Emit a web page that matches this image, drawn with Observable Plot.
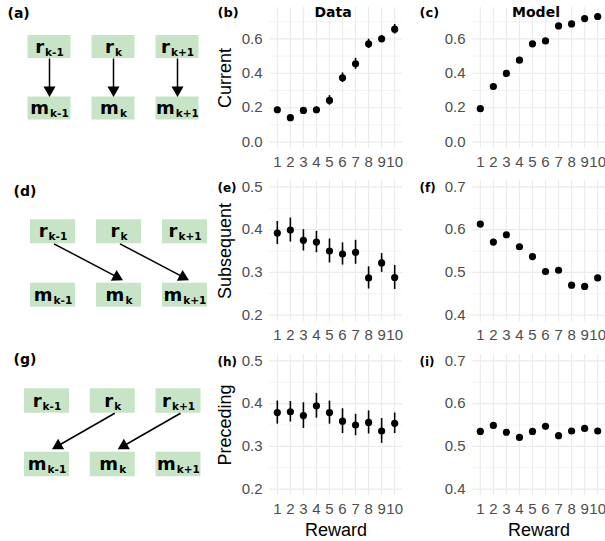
<!DOCTYPE html>
<html><head><meta charset="utf-8">
<script src="https://cdn.jsdelivr.net/npm/d3@7"></script>
<script src="https://cdn.jsdelivr.net/npm/@observablehq/plot@0.6"></script>
<style>
html,body{margin:0;padding:0;background:#fff;}
#fig{position:relative;width:605px;height:541px;overflow:hidden;background:#fff;}
#fig svg{position:absolute;}
</style></head><body><div id="fig"></div>
<script>
// ---------- data ----------
const rewards = [1, 2, 3, 4, 5, 6, 7, 8, 9, 10];
const dataCurrent      = [0.188, 0.142, 0.184, 0.188, 0.242, 0.374, 0.455, 0.571, 0.600, 0.656];
const dataCurrentSE    = [0.015, 0.014, 0.015, 0.016, 0.028, 0.028, 0.032, 0.027, 0.020, 0.028];
const modelCurrent     = [0.194, 0.323, 0.399, 0.476, 0.571, 0.588, 0.675, 0.687, 0.718, 0.730];
const dataSubsequent   = [0.392, 0.399, 0.375, 0.371, 0.350, 0.343, 0.347, 0.287, 0.322, 0.288];
const dataSubsequentSE = [0.027, 0.028, 0.025, 0.025, 0.028, 0.026, 0.028, 0.026, 0.022, 0.028];
const modelSubsequent  = [0.613, 0.571, 0.588, 0.560, 0.537, 0.502, 0.505, 0.470, 0.467, 0.487];
const dataPreceding    = [0.379, 0.381, 0.372, 0.395, 0.379, 0.359, 0.350, 0.356, 0.336, 0.354];
const dataPrecedingSE  = [0.027, 0.024, 0.030, 0.029, 0.027, 0.029, 0.025, 0.027, 0.029, 0.024];
const modelPreceding   = [0.535, 0.549, 0.533, 0.521, 0.535, 0.547, 0.525, 0.536, 0.542, 0.536];

const rowLabels = ["Current", "Subsequent", "Preceding"];
const colTitles = ["Data", "Model"];
const panelTags = [["(b)", "(c)"], ["(e)", "(f)"], ["(h)", "(i)"]];
const xTitle = "Reward";
const row1Majors = [0, 0.2, 0.4, 0.6], row1Minors = [0.1, 0.3, 0.5, 0.7];
const lowMajors = [0.2, 0.3, 0.4, 0.5], lowMinors = [0.25, 0.35, 0.45];
const highMajors = [0.4, 0.5, 0.6, 0.7], highMinors = [0.45, 0.55, 0.65];

const diagramTags = ["(a)", "(d)", "(g)"];
const nodeBase = ["r", "m"];
const nodeSub = ["k-1", "k", "k+1"];
const diagramEdges = [[[0, 0], [1, 1], [2, 2]], [[0, 1], [1, 2]], [[1, 0], [2, 1]]];

// ---------- layout ----------
const fig = document.getElementById("fig");
const SANS = '"Liberation Sans", Arial, sans-serif';
const BOLD = '"DejaVu Sans", sans-serif';
const GRID = "#ebebeb";
const GREEN = "#c8e4c6";
const colLeft = [269, 472];
const rowTop = [7, 180, 354];
const PW = 133, PH = 141;

function panel(row, col, values, se, domain, majors, minors) {
  const ml = 69, mt = 7, mr = 0;
  const mb = row === 2 ? 541 - (rowTop[row] + PH) : 26;
  const pts = rewards.map((r, i) => ({reward: r, v: values[i], se: se ? se[i] : 0}));
  const marks = [
    Plot.gridY(minors, {stroke: GRID, strokeOpacity: 1, strokeWidth: 0.55}),
    Plot.gridY(majors, {stroke: GRID, strokeOpacity: 1, strokeWidth: 1.1}),
    Plot.gridX(rewards, {stroke: GRID, strokeOpacity: 1, strokeWidth: 1.1}),
    Plot.axisY(majors, {anchor: "left", tickSize: 0, tickPadding: 7, tickFormat: d3.format(".1f"), color: "#4d4d4d", fontSize: 15, label: null}),
    Plot.axisX(rewards, {anchor: "bottom", tickSize: 0, tickPadding: 8, color: "#4d4d4d", fontSize: 15, label: null})
  ];
  if (se) marks.push(Plot.ruleX(pts, {x: "reward", y1: d => d.v - d.se, y2: d => d.v + d.se, stroke: "black", strokeWidth: 1.6}));
  marks.push(Plot.dot(pts, {x: "reward", y: "v", r: 3.6, fill: "black", stroke: "none"}));
  if (col === 0) marks.push(Plot.text([rowLabels[row]], {text: d => d, frameAnchor: "left", rotate: -90, dx: -39, lineAnchor: "bottom", textAnchor: "middle", fontSize: 18, fill: "black", fontFamily: SANS}));
  if (row === 0) marks.push(Plot.text([colTitles[col]], {text: d => d, frameAnchor: "top", dx: -3, dy: 9, lineAnchor: "bottom", textAnchor: "middle", fontSize: 14, fontWeight: "bold", fontFamily: BOLD, fill: "black"}));
  if (row === 2) marks.push(Plot.text([xTitle], {text: d => d, frameAnchor: "bottom", dy: 40, lineAnchor: "bottom", textAnchor: "middle", fontSize: 18, fontFamily: SANS, fill: "black"}));
  const tagX = col === 0 ? 217 : 419;
  const tagBase = [16, 191, 365][row];
  marks.push(Plot.text([panelTags[row][col]], {text: d => d, frameAnchor: "top-left", dx: tagX - colLeft[col], dy: tagBase - rowTop[row], lineAnchor: "bottom", textAnchor: "start", fontSize: row === 0 ? 13 : 12, fontWeight: "bold", fontFamily: BOLD, fill: "black"}));
  const left = colLeft[col] - ml, top = rowTop[row] - mt;
  const svg = Plot.plot({
    width: ml + PW + mr, height: mt + PH + mb,
    marginLeft: ml, marginRight: mr, marginTop: mt, marginBottom: mb,
    x: {type: "linear", domain: [0.4, 10.6], axis: null},
    y: {type: "linear", domain, axis: null},
    style: {background: "transparent", overflow: "visible", fontFamily: SANS, fontSize: "15px", position: "absolute", left: left + "px", top: top + "px"},
    marks
  });
  fig.appendChild(svg);
}

const r1 = [-0.03725, 0.78225];
panel(0, 0, dataCurrent, dataCurrentSE, r1, row1Majors, row1Minors);
panel(0, 1, modelCurrent, null, r1, row1Majors, row1Minors);
panel(1, 0, dataSubsequent, dataSubsequentSE, [0.185, 0.515], lowMajors, lowMinors);
panel(1, 1, modelSubsequent, null, [0.385, 0.715], highMajors, highMinors);
panel(2, 0, dataPreceding, dataPrecedingSE, [0.185, 0.515], lowMajors, lowMinors);
panel(2, 1, modelPreceding, null, [0.385, 0.715], highMajors, highMinors);

// ---------- diagrams ----------
const ctx = document.createElement("canvas").getContext("2d");
function textW(s, size) { ctx.font = `bold ${size}px "DejaVu Sans"`; return ctx.measureText(s).width; }
const MAIN = 18, SUB = 10.5;

const geoms = [
  {top: 0,   w: 205, h: 135, ml: 49,   mr: 28,   mt: 46.5, mb: 27,   bw: 43, bh: 23,   tagX: 7,  tagBase: 17, startOff: 0, tipOff: 0, gap: 0},
  {top: 170, w: 215, h: 150, ml: 52.5, mr: 30.5, mt: 61.3, mb: 25.3, bw: 45, bh: 24,   tagX: 13, tagBase: 25, startOff: 1, tipOff: 4, gap: 3},
  {top: 330, w: 205, h: 160, ml: 46.5, mr: 27,   mt: 70.5, mb: 26,   bw: 45, bh: 24.5, tagX: 13, tagBase: 33, startOff: 2, tipOff: 5, gap: 3}
];

function diagram(i) {
  const g = geoms[i];
  const pxX = (g.w - g.ml - g.mr) / 2, pxY = g.h - g.mt - g.mb;
  const nodes = [];
  for (let r = 0; r < 2; r++) for (let c = 0; c < 3; c++) {
    const wm = textW(nodeBase[r], MAIN), ws = textW(nodeSub[c], SUB);
    const off = (wm - ws) / 2 - 0.5;
    nodes.push({col: c, row: r, base: nodeBase[r], sub: nodeSub[c], xm: c + off / pxX, xs: c + (off + 1) / pxX});
  }
  const arrows = diagramEdges[i].map(([a, b]) => {
    const sx = a * pxX + g.startOff, sy = g.bh / 2;
    const tx = b * pxX + g.tipOff, ty = pxY - g.bh / 2 - g.gap;
    const L = Math.hypot(tx - sx, ty - sy), ux = (tx - sx) / L, uy = (ty - sy) / L;
    const cx = tx - 7 * ux, cy = ty - 7 * uy;
    return {x1: sx / pxX, y1: sy / pxY, x2: cx / pxX, y2: cy / pxY, rot: Math.atan2(ux, -uy) * 180 / Math.PI};
  });
  const svg = Plot.plot({
    width: g.w, height: g.h,
    marginLeft: g.ml, marginRight: g.mr, marginTop: g.mt, marginBottom: g.mb,
    x: {type: "linear", domain: [0, 2], axis: null},
    y: {type: "linear", domain: [0, 1], reverse: true, axis: null},
    style: {background: "transparent", overflow: "visible", position: "absolute", left: "0px", top: g.top + "px"},
    marks: [
      Plot.rect(nodes, {x1: d => d.col - g.bw / 2 / pxX, x2: d => d.col + g.bw / 2 / pxX, y1: d => d.row - g.bh / 2 / pxY, y2: d => d.row + g.bh / 2 / pxY, fill: GREEN}),
      Plot.text(nodes, {x: "xm", y: d => d.row + 5.5 / pxY, text: "base", textAnchor: "end", lineAnchor: "bottom", fontSize: MAIN, fontWeight: "bold", fontFamily: BOLD, fill: "black"}),
      Plot.text(nodes, {x: "xs", y: d => d.row + 8.5 / pxY, text: "sub", textAnchor: "start", lineAnchor: "bottom", fontSize: SUB, fontWeight: "bold", fontFamily: BOLD, fill: "black"}),
      Plot.link(arrows, {x1: "x1", y1: "y1", x2: "x2", y2: "y2", stroke: "black", strokeWidth: 1.5}),
      Plot.dot(arrows, {x: "x2", y: "y2", symbol: "triangle", r: 4.5, rotate: "rot", fill: "black", stroke: "none"}),
      Plot.text([diagramTags[i]], {text: d => d, frameAnchor: "top-left", dx: g.tagX - g.ml, dy: g.tagBase - g.mt, textAnchor: "start", lineAnchor: "bottom", fontSize: 14, fontWeight: "bold", fontFamily: BOLD, fill: "black"})
    ]
  });
  fig.appendChild(svg);
}
diagram(0); diagram(1); diagram(2);
</script></body></html>
